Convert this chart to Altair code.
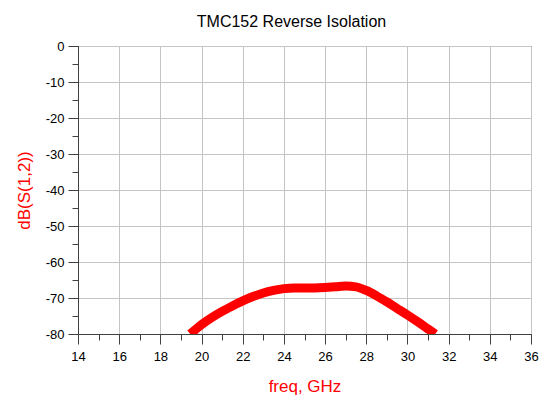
import altair as alt
import pandas as pd

freq = [19.45, 19.7, 20.0, 20.5, 21.0, 21.5, 22.0, 22.5, 23.0, 23.5, 24.0, 24.5, 25.0,
        25.5, 26.0, 26.5, 27.0, 27.5, 28.0, 28.5, 29.0, 29.5, 30.0, 30.5, 31.0, 31.35]
db = [-80.0, -78.8, -77.4, -75.4, -73.7, -72.2, -70.8, -69.6, -68.6, -67.9, -67.4, -67.2,
      -67.2, -67.2, -67.1, -66.9, -66.7, -66.9, -67.9, -69.4, -71.1, -72.9, -74.7, -76.6,
      -78.6, -80.0]
x_major = list(range(14, 37, 2))
x_minor = list(range(14, 37, 1))
y_major = list(range(-80, 1, 10))
y_minor = list(range(-80, 1, 5))

df = pd.DataFrame({"freq": freq, "db": db})
FONT = "Liberation Sans"
AX = "#404040"
GRID = "#c4c4c4"

xs = alt.Scale(domain=[14, 36], nice=False, zero=False)
ys = alt.Scale(domain=[-80, 0], nice=False, zero=False)

main = alt.Chart(df).mark_line(color="#ff0000", strokeWidth=9, clip=True,
                               interpolate="monotone").encode(
    x=alt.X("freq:Q", scale=xs, axis=alt.Axis(
        orient="bottom", values=x_major, tickSize=10, grid=True, gridColor=GRID,
        domainColor=AX, tickColor=AX, labelFont=FONT, labelFontSize=13, labelColor="black",
        labelPadding=6, labelExpr="datum.value + ''",
        title="freq, GHz", titleColor="#ff0000", titleFont=FONT,
        titleFontSize=17, titleFontWeight="normal", titlePadding=15, labelFlush=False)),
    y=alt.Y("db:Q", scale=ys, axis=alt.Axis(
        orient="left", values=y_major, tickSize=10, grid=True, gridColor=GRID,
        domainColor=AX, tickColor=AX, labelFont=FONT, labelFontSize=13, labelColor="black",
        labelPadding=4, labelExpr="datum.value + ''",
        title="dB(S(1,2))", titleColor="#ff0000", titleFont=FONT,
        titleFontSize=17, titleFontWeight="normal", titlePadding=12, labelFlush=False)),
)

minor = alt.Chart(df).mark_line(opacity=0).encode(
    x=alt.X("freq:Q", scale=xs, axis=alt.Axis(
        orient="bottom", values=x_minor, tickSize=6, grid=False, labels=False,
        domain=False, tickColor=AX, title=None)),
    y=alt.Y("db:Q", scale=ys, axis=alt.Axis(
        orient="left", values=y_minor, tickSize=6, grid=False, labels=False,
        domain=False, tickColor=AX, title=None)),
)

chart = alt.layer(main, minor).resolve_axis(x="independent", y="independent").properties(
    width=453, height=288,
    title=alt.TitleParams("TMC152 Reverse Isolation", font=FONT, fontSize=16,
                          fontWeight="normal", color="black", anchor="middle",
                          offset=10, dx=-13),
    autosize=alt.AutoSizeParams(type="none"),
    padding={"left": 70, "top": 38, "right": 8, "bottom": 62},
).configure_view(stroke="#666666", strokeWidth=1)

chart.save("out.html", embed_options={"renderer": "svg", "actions": False})
